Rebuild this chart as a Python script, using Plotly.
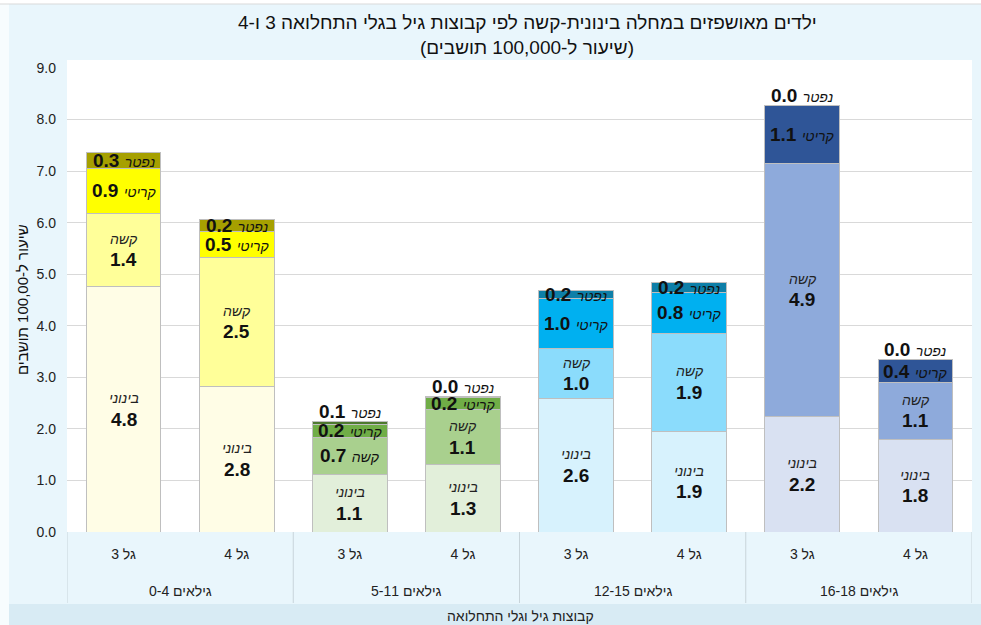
import plotly.graph_objects as go

# ---- data ----
groups = ["גילאים 0-4", "גילאים 5-11", "גילאים 12-15", "גילאים 16-18"]
waves = ["גל 3", "גל 4"]
series_names = ["בינוני", "קשה", "קריטי", "נפטר"]
binoni = [4.77, 2.83, 1.12, 1.30, 2.58, 1.94, 2.25, 1.80]
kasha = [1.41, 2.50, 0.72, 1.07, 0.97, 1.92, 4.90, 1.10]
kriti = [0.87, 0.50, 0.24, 0.24, 0.97, 0.79, 1.12, 0.44]
niftar = [0.31, 0.24, 0.07, 0.02, 0.16, 0.18, 0.01, 0.01]
y_ticks = [0, 1, 2, 3, 4, 5, 6, 7, 8, 9]

title_l1 = "ילדים מאושפזים במחלה בינונית-קשה לפי קבוצות גיל בגלי התחלואה 3 ו-4"
title_l2 = "(שיעור ל-100,000 תושבים)"
y_title = "שיעור ל-100,00 תושבים"
x_title = "קבוצות גיל וגלי התחלואה"

# ---- styles ----
FONT = "Liberation Sans, Arial, sans-serif"
palette = {  # per age group: binoni, kasha, kriti, niftar
    0: ["#fffde6", "#ffff99", "#ffff00", "#a6a000"],
    1: ["#e2efda", "#a9d08e", "#70ad47", "#4e7a2f"],
    2: ["#d7f2fd", "#8bdcfc", "#00b0f0", "#0e7fa8"],
    3: ["#d9e1f2", "#8eaadb", "#2f5597", "#1f3864"],
}
PLOT_L, PLOT_W, PLOT_T, PLOT_H = 67.0, 905.0, 68.0, 464.0


def px_x(px):
    return (px - PLOT_L) / PLOT_W


def px_y(py):
    return 1 - (py - PLOT_T) / PLOT_H


nw = len(waves)
inner = [w for _ in groups for w in waves]
xs = list(range(len(inner)))
series = [binoni, kasha, kriti, niftar]
n = len(inner)

fig = go.Figure()
for si, vals in enumerate(series):
    colors = [palette[i // nw][si] for i in range(n)]
    fig.add_trace(go.Bar(
        x=xs, y=vals, name=series_names[si],
        marker=dict(color=colors, line=dict(color="#bfbfbf", width=1)),
        width=0.66, hoverinfo="y", showlegend=False,
    ))

# ---- labels ----
annotations = []
base = [0.0] * n
for si, vals in enumerate(series):
    name = series_names[si]
    for i in range(n):
        v = vals[i]
        b = base[i]
        mid = b + v / 2
        top = b + v
        two_line = (si == 0) or (si == 1 and v >= 0.8)
        if two_line:
            annotations.append(dict(x=i, y=mid, xref="x", yref="y", text="<i>%s</i>" % name,
                                    showarrow=False, yshift=11,
                                    font=dict(family=FONT, size=14, color="#222222")))
            annotations.append(dict(x=i, y=mid, xref="x", yref="y", text="<b>%.1f</b>" % v,
                                    showarrow=False, yshift=-10,
                                    font=dict(family=FONT, size=19, color="#111111")))
        else:
            txt = "<b>%.1f</b> <span style='font-size:14px'><i>%s</i></span>" % (v, name)
            if si == 3 and v < 0.1:
                annotations.append(dict(x=i, y=top, xref="x", yref="y", text=txt,
                                        showarrow=False, yanchor="bottom", yshift=-3,
                                        font=dict(family=FONT, size=19, color="#111111")))
            else:
                annotations.append(dict(x=i, y=mid, xref="x", yref="y", text=txt,
                                        showarrow=False,
                                        font=dict(family=FONT, size=19, color="#111111")))
        base[i] = top

# group labels under wave labels
for gi, g in enumerate(groups):
    annotations.append(dict(x=gi * nw + (nw - 1) / 2, y=px_y(591), xref="x", yref="paper",
                            text=g, showarrow=False, yanchor="middle",
                            font=dict(family=FONT, size=14, color="#222222")))

annotations.append(dict(x=px_x(527), y=px_y(22), xref="paper", yref="paper", yanchor="middle",
                        text=title_l1, showarrow=False,
                        font=dict(family=FONT, size=19, color="#111111")))
annotations.append(dict(x=px_x(527), y=px_y(48), xref="paper", yref="paper", yanchor="middle",
                        text=title_l2, showarrow=False,
                        font=dict(family=FONT, size=19, color="#111111")))
annotations.append(dict(x=px_x(520), y=px_y(616), xref="paper", yref="paper", yanchor="middle",
                        text=x_title, showarrow=False,
                        font=dict(family=FONT, size=14, color="#222222")))
annotations.append(dict(x=px_x(22), y=0.5, xref="paper", yref="paper", textangle=-90,
                        xanchor="center", yanchor="middle",
                        text=y_title, showarrow=False,
                        font=dict(family=FONT, size=15, color="#111111")))

shapes = [
    # frame / bevel decorations
    dict(type="rect", xref="paper", yref="paper", x0=px_x(0), x1=px_x(9), y0=px_y(625), y1=px_y(0),
         fillcolor="#f7fcfe", line=dict(width=0), layer="below"),
    dict(type="rect", xref="paper", yref="paper", x0=px_x(0), x1=px_x(981), y0=px_y(4), y1=px_y(0),
         fillcolor="#ffffff", line=dict(width=0), layer="below"),
    dict(type="line", xref="paper", yref="paper", x0=px_x(0), x1=px_x(981), y0=px_y(4), y1=px_y(4),
         line=dict(color="#d9d9d9", width=1), layer="below"),
    dict(type="rect", xref="paper", yref="paper", x0=px_x(9), x1=px_x(981), y0=px_y(625), y1=px_y(604),
         fillcolor="#d8ebf4", line=dict(width=0), layer="below"),
    # white band above plot area
    dict(type="rect", xref="paper", yref="paper", x0=0, x1=1, y0=1, y1=px_y(60),
         fillcolor="#ffffff", line=dict(width=0), layer="below"),
]
for k in range(len(groups) + 1):
    shapes.append(dict(type="line", xref="x", yref="paper", x0=k * nw - 0.5, x1=k * nw - 0.5,
                       y0=0, y1=px_y(603), line=dict(color="#c8d4da", width=1)))

fig.update_layout(
    width=981, height=625,
    margin=dict(l=67, r=9, t=68, b=93, autoexpand=False),
    paper_bgcolor="#e9f6fc", plot_bgcolor="#ffffff",
    barmode="stack",
    font=dict(family=FONT, size=13, color="#222222"),
    annotations=annotations,
    shapes=shapes,
    xaxis=dict(range=[-0.5, n - 0.5], tickvals=xs, ticktext=inner, showgrid=False,
               showline=False, zeroline=False, ticks="", ticklabelstandoff=12,
               tickfont=dict(family=FONT, size=14, color="#222222")),
    yaxis=dict(range=[0, 9], tickvals=y_ticks, tickformat=".1f",
               gridcolor="#d9d9d9", gridwidth=1, zeroline=False, showline=False,
               ticks="", ticklabelstandoff=10,
               tickfont=dict(family=FONT, size=14, color="#222222")),
)

fig.write_html("out.html", config={"displayModeBar": False},
               post_script="document.body.style.margin='0';document.body.style.overflow='hidden';")
